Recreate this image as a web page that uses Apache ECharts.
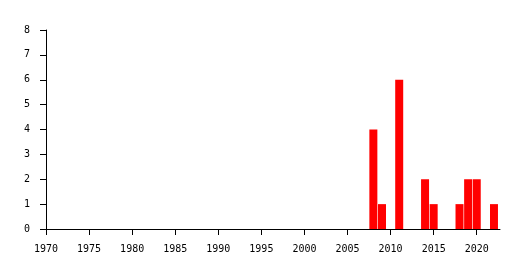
<!DOCTYPE html>
<html><head><meta charset="utf-8">
<script src="https://cdn.jsdelivr.net/npm/echarts@6/dist/echarts.min.js"></script>
<style>html,body{margin:0;padding:0;background:#fff}#c{width:519px;height:270px}</style>
</head><body><div id="c"></div>
<script>
const years = [2008, 2009, 2011, 2014, 2015, 2018, 2019, 2020, 2022];
const counts = [4, 1, 6, 2, 1, 1, 2, 2, 1];
const xMin = 1970, xMax = 2022.7, xStep = 5;
const yMin = 0, yMax = 8, yStep = 1;

const chart = echarts.init(document.getElementById('c'), null, {renderer: 'canvas'});
const font = 'DejaVu Sans Mono';
chart.setOption({
  animation: false,
  grid: {left: 46, right: 19, top: 30, bottom: 41},
  xAxis: {
    type: 'value', min: xMin, max: xMax, interval: xStep,
    axisLine: {lineStyle: {color: '#000', width: 1}},
    axisTick: {show: true, length: 6, lineStyle: {color: '#000'}},
    axisLabel: {color: '#000', fontFamily: font, fontSize: 10, margin: 15,
      formatter: v => (v % 5 === 0 ? String(v) : ''), showMaxLabel: false},
    splitLine: {show: false}
  },
  yAxis: {
    type: 'value', min: yMin, max: yMax, interval: yStep,
    axisLine: {show: true, lineStyle: {color: '#000', width: 1}},
    axisTick: {show: true, length: 6, lineStyle: {color: '#000'}},
    axisLabel: {color: '#000', fontFamily: font, fontSize: 10, margin: 16},
    splitLine: {show: false}
  },
  series: [{
    type: 'bar',
    data: years.map((y, i) => [y, counts[i]]),
    barWidth: 8,
    itemStyle: {color: '#ff0000'}
  }]
});
</script></body></html>
